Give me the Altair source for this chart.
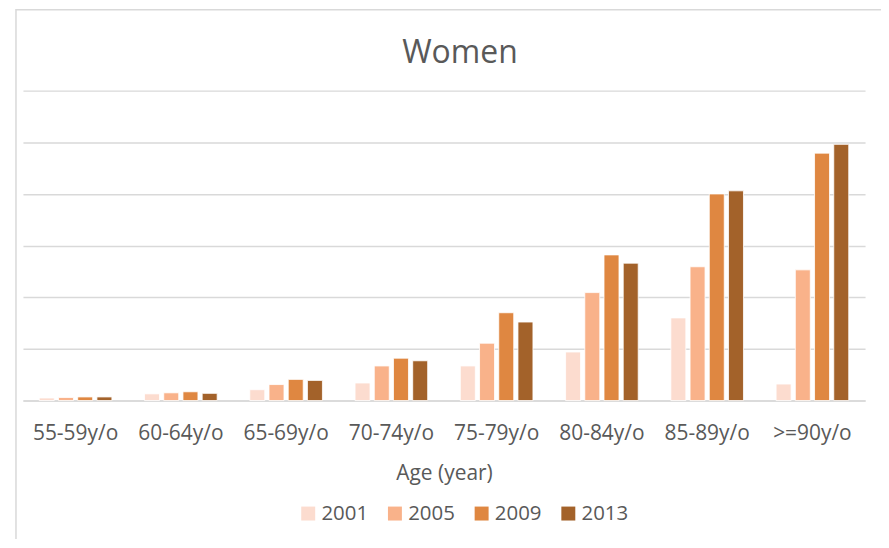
import altair as alt
import pandas as pd

ages = ["55-59y/o", "60-64y/o", "65-69y/o", "70-74y/o", "75-79y/o", "80-84y/o", "85-89y/o", ">=90y/o"]
years = ["2001", "2005", "2009", "2013"]
v2001 = [0.05, 0.13, 0.21, 0.34, 0.67, 0.94, 1.60, 0.32]
v2005 = [0.06, 0.15, 0.31, 0.67, 1.11, 2.09, 2.59, 2.53]
v2009 = [0.07, 0.17, 0.41, 0.82, 1.70, 2.82, 4.00, 4.79]
v2013 = [0.07, 0.14, 0.39, 0.77, 1.52, 2.66, 4.06, 4.96]
colors = ["#FCDCCF", "#F9B28A", "#DF8741", "#A3622A"]
y_ticks = [0, 1, 2, 3, 4, 5, 6]

rows = []
for yr, vals in zip(years, [v2001, v2005, v2009, v2013]):
    for a, v in zip(ages, vals):
        rows.append({"age": a, "year": yr, "value": v})
df = pd.DataFrame(rows)

FONT = "Open Sans"
TXT = "#595959"
GRID = "#D9D9D9"

bars = alt.Chart(df).mark_bar(stroke="white", strokeWidth=0.8).encode(
    x=alt.X("age:N", sort=ages, title="Age (year)",
            scale=alt.Scale(paddingInner=0.31, paddingOuter=0.155),
            axis=alt.Axis(labelAngle=0, ticks=False, tickSize=0, labelPadding=22,
                          labelFontSize=21, labelFont=FONT, labelColor=TXT,
                          titleFontSize=21, titleFont=FONT, titleColor=TXT,
                          titleFontWeight="normal", titlePadding=19,
                          domainColor=GRID, domainWidth=1.5, grid=False)),
    xOffset=alt.XOffset("year:N", sort=years,
                        scale=alt.Scale(paddingInner=0.22, paddingOuter=0)),
    y=alt.Y("value:Q", scale=alt.Scale(domain=[0, 6], nice=False),
            axis=alt.Axis(values=y_ticks, labels=False, ticks=False, domain=False,
                          title=None, grid=True, gridColor=GRID, gridWidth=1.5)),
    color=alt.Color("year:N", sort=years,
                    scale=alt.Scale(domain=years, range=colors),
                    legend=alt.Legend(title=None, orient="none", direction="horizontal",
                                      legendX=276, legendY=414, padding=0,
                                      symbolType="square", symbolSize=196,
                                      symbolStrokeWidth=0, symbolOpacity=1,
                                      labelFont=FONT, labelFontSize=20.5,
                                      labelColor=TXT, labelOffset=3,
                                      columnPadding=16)),
)

frame = pd.DataFrame({"k": [0]})
left_border = alt.Chart(frame).mark_rule(color=GRID, strokeWidth=1.5).encode(
    x=alt.value(-7), y=alt.value(-82), y2=alt.value(460))
top_border = alt.Chart(frame).mark_rule(color=GRID, strokeWidth=1.5).encode(
    x=alt.value(-7), x2=alt.value(880), y=alt.value(-81.2))

chart = alt.layer(left_border, top_border, bars).properties(
    width=845, height=311,
    autosize=alt.AutoSizeParams(type="none"),
    padding={"left": 15, "top": 82, "right": 16, "bottom": 138},
    title=alt.TitleParams("Women", fontSize=32, font=FONT, color=TXT,
                          fontWeight="normal", anchor="middle", dx=16, offset=-62),
).configure_view(stroke=None)

chart.save("out.html", embed_options={"renderer": "svg", "actions": False})
